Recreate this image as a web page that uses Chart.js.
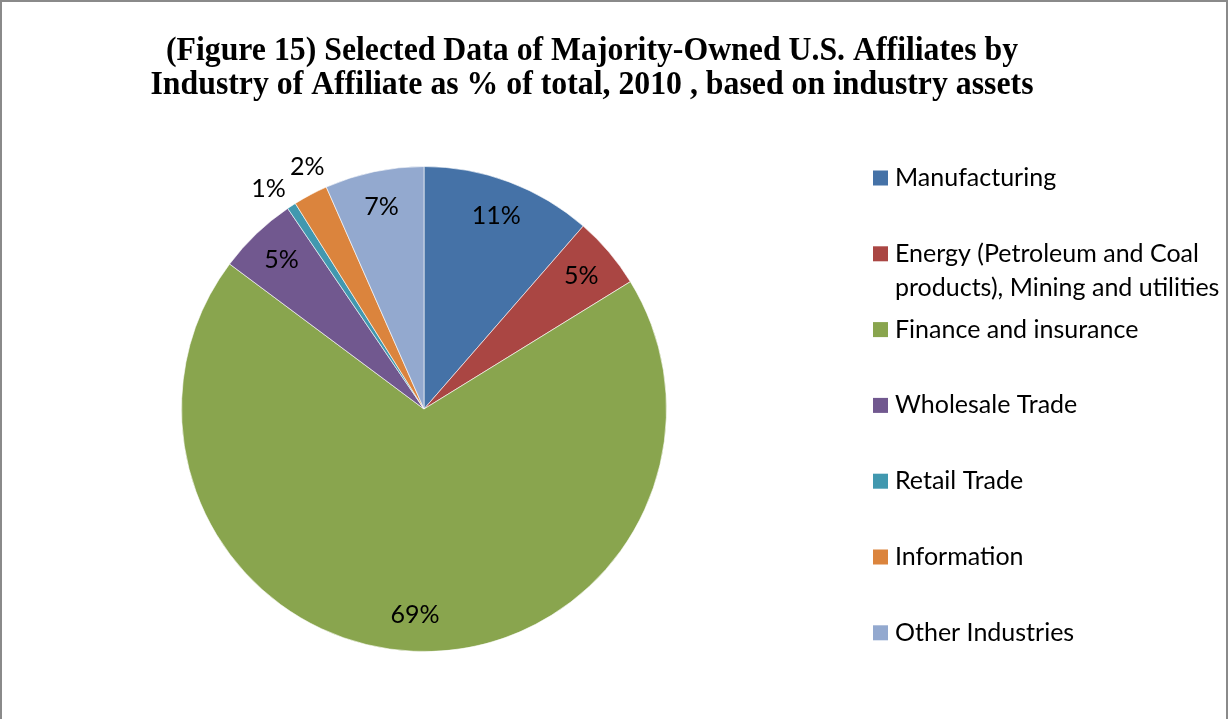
<!DOCTYPE html>
<html>
<head>
<meta charset="utf-8">
<script src="https://cdn.jsdelivr.net/npm/chart.js@4/dist/chart.umd.min.js"></script>
<style>
  html, body { margin: 0; padding: 0; background: #fff; overflow: hidden; }
  #frame { position: absolute; left: 0; top: 0; width: 1228px; height: 760px; border: 2px solid #8a8a8a; box-sizing: border-box; }
  #c { position: absolute; left: 0; top: 0; }
</style>
</head>
<body>
<div id="frame"></div>
<canvas id="c" width="1231" height="719"></canvas>
<script>
// ---- data ----
const titleLines = [
  "(Figure 15) Selected Data of Majority-Owned U.S. Affiliates by",
  "Industry of Affiliate as % of total, 2010 , based on industry assets"
];
const categories = [
  "Manufacturing",
  ["Energy (Petroleum and Coal", "products), Mining and utilities"],
  "Finance and insurance",
  "Wholesale Trade",
  "Retail Trade",
  "Information",
  "Other Industries"
];
const shares = [11.4, 4.8, 69.0, 5.3, 0.6, 2.3, 6.6];
const colors = ["#4572A7", "#AA4643", "#89A54E", "#71588F", "#4198AF", "#DB843D", "#93A9CF"];

const LABEL_FONT = '25px Lato, "Liberation Sans", sans-serif';

const titlePlugin = {
  id: 'customTitle',
  afterDraw(chart) {
    const ctx = chart.ctx;
    ctx.save();
    ctx.font = 'bold 33px "Liberation Serif", "Times New Roman", serif';
    const w2 = ctx.measureText(titleLines[1]).width;
    const sx = 883 / w2;
    ctx.fillStyle = '#000';
    ctx.textAlign = 'center';
    ctx.textBaseline = 'alphabetic';
    ctx.translate(592, 0);
    ctx.scale(sx, 1);
    ctx.fillText(titleLines[0], 0, 60);
    ctx.fillText(titleLines[1], 0, 94);
    ctx.restore();
  }
};

const labelPlugin = {
  id: 'sliceLabels',
  afterDatasetsDraw(chart) {
    const ctx = chart.ctx;
    const meta = chart.getDatasetMeta(0);
    const data = chart.data.datasets[0].data;
    const total = data.reduce((a, b) => a + b, 0);
    const items = meta.data.map((arc, i) => {
      const p = arc.getProps(['x', 'y', 'startAngle', 'endAngle', 'outerRadius'], true);
      const pct = data[i] / total * 100;
      return { p, pct, mid: (p.startAngle + p.endAngle) / 2, outside: pct < 3 };
    });
    // spread neighbouring outside labels apart so they don't collide
    const outs = items.filter(o => o.outside).sort((a, b) => a.mid - b.mid);
    const minSep = 9.6 * Math.PI / 180;
    for (let k = 1; k < outs.length; k++) {
      const gap = outs[k].mid - outs[k - 1].mid;
      if (gap < minSep) {
        const push = (minSep - gap) / 2;
        outs[k - 1].mid -= push;
        outs[k].mid += push;
      }
    }
    ctx.save();
    ctx.font = LABEL_FONT;
    ctx.fillStyle = '#000';
    ctx.textAlign = 'center';
    ctx.textBaseline = 'middle';
    items.forEach(o => {
      const r = o.outside ? o.p.outerRadius * 1.11 : o.p.outerRadius * 0.85;
      const x = o.p.x + Math.cos(o.mid) * r;
      const y = o.p.y + Math.sin(o.mid) * r;
      ctx.fillText(Math.round(o.pct) + '%', x, y);
    });
    ctx.restore();
  }
};

const legendPlugin = {
  id: 'sideLegend',
  afterDraw(chart) {
    const ctx = chart.ctx;
    const labels = chart.data.labels;
    const bg = chart.data.datasets[0].backgroundColor;
    ctx.save();
    ctx.font = LABEL_FONT;
    ctx.textAlign = 'left';
    ctx.textBaseline = 'middle';
    const y0 = 178, step = 75.8, lineH = 34;
    labels.forEach((lab, i) => {
      const y = y0 + i * step;
      ctx.fillStyle = bg[i];
      ctx.fillRect(873, y - 7.5, 15, 15);
      ctx.fillStyle = '#000';
      const lines = Array.isArray(lab) ? lab : [lab];
      lines.forEach((t, k) => ctx.fillText(t, 895, y + k * lineH));
    });
    ctx.restore();
  }
};

new Chart(document.getElementById('c'), {
  type: 'pie',
  data: {
    labels: categories,
    datasets: [{
      data: shares,
      backgroundColor: colors,
      borderColor: 'rgba(255,255,255,0.6)',
      borderWidth: 1
    }]
  },
  options: {
    responsive: false,
    animation: false,
    devicePixelRatio: 1,
    layout: { padding: { left: 181, right: 564, top: 166, bottom: 67 } },
    plugins: {
      legend: { display: false },
      title: { display: false },
      tooltip: { enabled: false }
    }
  },
  plugins: [titlePlugin, labelPlugin, legendPlugin]
});
</script>
</body>
</html>
